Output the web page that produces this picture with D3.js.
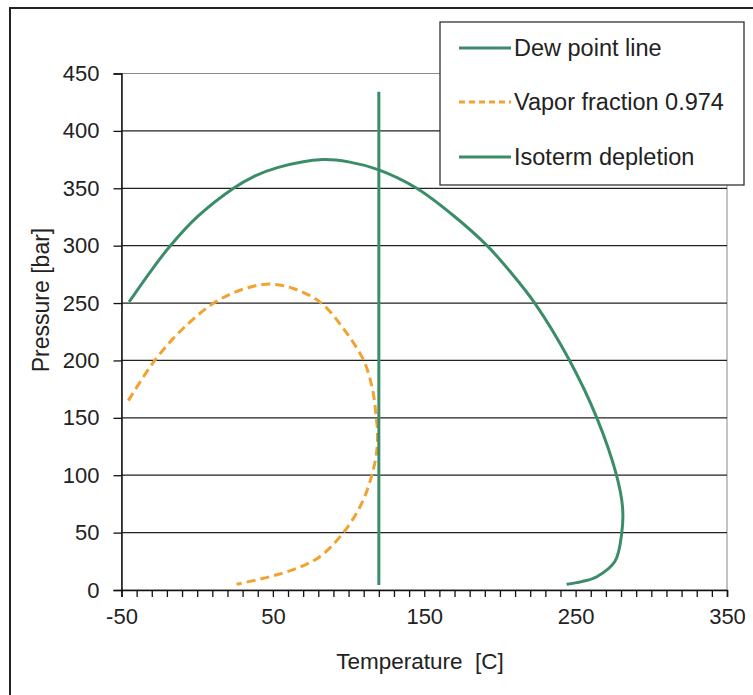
<!DOCTYPE html>
<html>
<head>
<meta charset="utf-8">
<script src="https://cdn.jsdelivr.net/npm/d3@7"></script>
<style>
  body { margin: 0; background: #fff; }
  svg { display: block; font-family: "Liberation Sans", Arial, sans-serif; }
</style>
</head>
<body>
<div id="chart"></div>
<script>
// Dew point line (temperature C, pressure bar)
const dewTemp = [-45, -30, -18, 0, 24, 37, 53, 83, 100, 120, 145, 169, 191.5, 207, 223, 246, 264, 277, 281, 280.5, 276, 264, 254, 244];
const dewPres = [251, 279, 299.5, 325, 350, 360, 368, 375, 373, 366, 350, 326.5, 300, 277, 250, 200, 150, 100, 72, 50, 25, 11.6, 7.3, 5];

// Vapor fraction 0.974
const vapTemp = [-45.5, -28, -10, 11, 30, 48, 65, 82, 97, 110, 115.8, 118.3, 119.1, 118.7, 115.4, 108.5, 96.6, 81, 66, 48, 26];
const vapPres = [165, 200, 227, 250, 262, 266.5, 262, 250, 227, 200, 175, 150, 137.7, 122, 100, 75, 50, 29, 19, 11.6, 5];

// Isoterm depletion
const isoTemp = [120, 120];
const isoPres = [4.4, 434];

const xTickValues = [-50, 50, 150, 250, 350];
const yTickValues = [0, 50, 100, 150, 200, 250, 300, 350, 400, 450];
const legendLabels = ["Dew point line", "Vapor fraction 0.974", "Isoterm depletion"];

document.addEventListener("DOMContentLoaded", function () {
  const width = 753;
  const height = 695;
  const green = "#3a8d68";
  const orange = "#f2a230";

  const svg = d3
    .select("#chart")
    .append("svg")
    .attr("width", width)
    .attr("height", height);

  // outer chart frame (cut off at right and bottom)
  svg
    .append("rect")
    .attr("x", 10)
    .attr("y", 8)
    .attr("width", 800)
    .attr("height", 800)
    .attr("fill", "#fff")
    .attr("stroke", "#222")
    .attr("stroke-width", 2);

  const xScale = d3.scaleLinear().domain([-50, 350]).range([121.5, 727]);
  const yScale = d3.scaleLinear().domain([0, 450]).range([590, 73.5]);

  // plot area border (grey top/right)
  svg
    .append("rect")
    .attr("x", xScale(-50))
    .attr("y", yScale(450))
    .attr("width", xScale(350) - xScale(-50))
    .attr("height", yScale(0) - yScale(450))
    .attr("fill", "none")
    .attr("stroke", "#8a8a8a")
    .attr("stroke-width", 1);

  // horizontal grid lines
  svg
    .append("g")
    .selectAll("line")
    .data(yTickValues.filter((d) => d > 0 && d < 450))
    .enter()
    .append("line")
    .attr("x1", xScale(-50))
    .attr("x2", xScale(350))
    .attr("y1", (d) => yScale(d))
    .attr("y2", (d) => yScale(d))
    .attr("stroke", "#222")
    .attr("stroke-width", 1.3);

  // Y axis
  const yAxis = svg
    .append("g")
    .attr("transform", `translate(${xScale(-50)},0)`)
    .call(d3.axisLeft(yScale).tickValues(yTickValues).tickSize(8).tickPadding(14));

  // X axis: minor ticks every 10, labels every 100
  const minorTicks = d3.range(-50, 351, 10);
  const xAxis = svg
    .append("g")
    .attr("transform", `translate(0,${yScale(0)})`)
    .call(
      d3.axisBottom(xScale).tickValues(minorTicks).tickSize(7)
        .tickFormat((d) => (xTickValues.includes(d) ? d : ""))
        .tickPadding(11)
    );

  [yAxis, xAxis].forEach((ax) => {
    ax.select(".domain").attr("stroke", "#111").attr("stroke-width", 1.5);
    ax.selectAll(".tick line").attr("stroke", "#111").attr("stroke-width", 1.3);
    ax.selectAll("text").attr("fill", "#222").style("font-size", "22px");
  });

  // axis titles
  svg
    .append("text")
    .attr("transform", `translate(49,300) rotate(-90)`)
    .attr("text-anchor", "middle")
    .attr("fill", "#222")
    .style("font-size", "23px")
    .text("Pressure [bar]");

  svg
    .append("text")
    .attr("x", 420)
    .attr("y", 669)
    .attr("text-anchor", "middle")
    .attr("fill", "#222")
    .style("font-size", "22.5px")
    .text("Temperature \u00a0[C]");

  const line = d3
    .line()
    .x((d) => xScale(d[0]))
    .y((d) => yScale(d[1]))
    .curve(d3.curveCatmullRom.alpha(0.5));

  // series
  svg
    .append("path")
    .datum(d3.zip(dewTemp, dewPres))
    .attr("d", line)
    .attr("fill", "none")
    .attr("stroke", green)
    .attr("stroke-width", 3);

  svg
    .append("path")
    .datum(d3.zip(vapTemp, vapPres))
    .attr("d", line)
    .attr("fill", "none")
    .attr("stroke", orange)
    .attr("stroke-width", 3)
    .attr("stroke-dasharray", "9,5");

  svg
    .append("path")
    .datum(d3.zip(isoTemp, isoPres))
    .attr("d", line)
    .attr("fill", "none")
    .attr("stroke", green)
    .attr("stroke-width", 3);

  // legend
  const legend = svg.append("g");
  legend
    .append("rect")
    .attr("x", 440)
    .attr("y", 22)
    .attr("width", 304)
    .attr("height", 163)
    .attr("fill", "#fff")
    .attr("stroke", "#333")
    .attr("stroke-width", 1.3);

  const legendStyles = [
    { color: green, dash: null },
    { color: orange, dash: "6,4" },
    { color: green, dash: null },
  ];
  const rowY = [48, 102, 157];

  legendLabels.forEach((label, i) => {
    legend
      .append("line")
      .attr("x1", 459)
      .attr("x2", 511)
      .attr("y1", rowY[i])
      .attr("y2", rowY[i])
      .attr("stroke", legendStyles[i].color)
      .attr("stroke-width", 3)
      .attr("stroke-dasharray", legendStyles[i].dash);
    legend
      .append("text")
      .attr("x", 514)
      .attr("y", rowY[i])
      .attr("dy", "0.36em")
      .attr("fill", "#222")
      .style("font-size", "23.5px")
      .text(label);
  });
});
</script>
</body>
</html>
